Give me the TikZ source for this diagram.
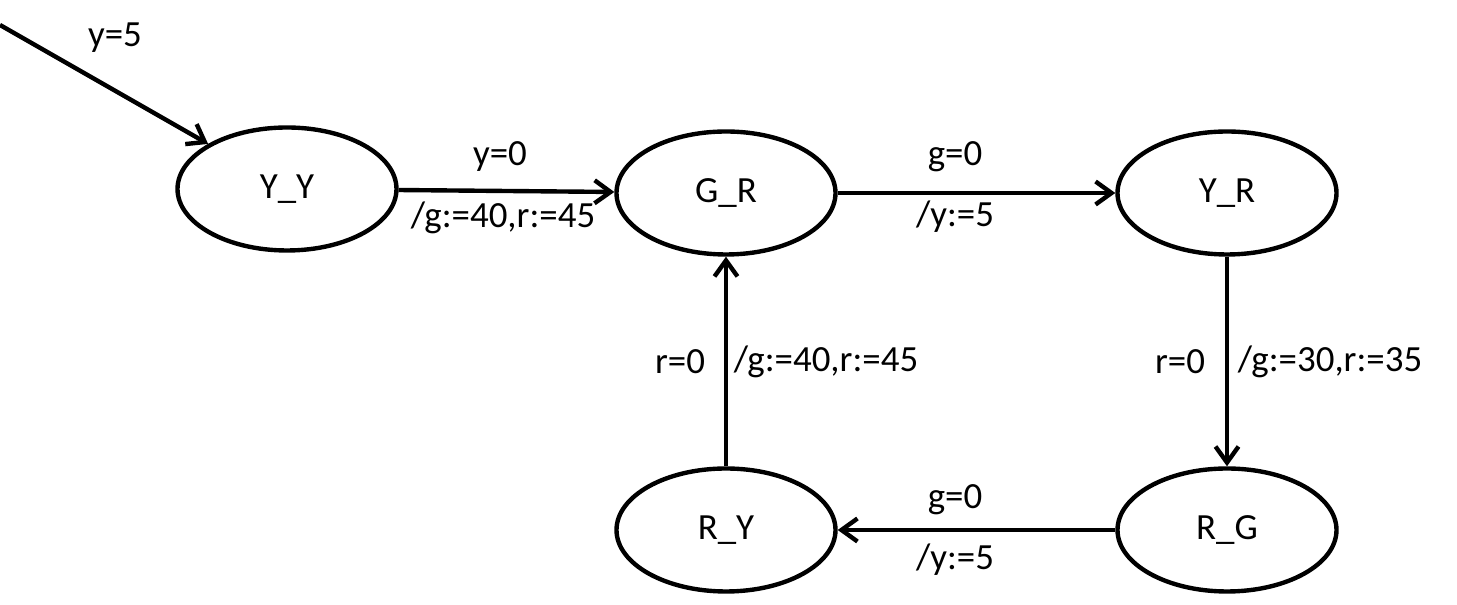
\documentclass[tikz,border=0pt]{standalone}
\usepackage{fontspec}
\setmainfont{Carlito}
\usetikzlibrary{shapes.geometric,arrows.meta}

\tikzset{
  state/.style={draw,ellipse,line width=2.5pt,minimum width=4.38cm,minimum height=2.46cm,inner sep=0pt},
  trans/.style={line width=2.5pt,-{Straight Barb[length=3.2mm,width=4.6mm,line width=2.5pt]}},
  lbl/.style={inner sep=0pt}
}

\begin{document}
\begin{tikzpicture}[font=\fontsize{21}{25}\selectfont]
			\useasboundingbox (0,0) rectangle (29.14,12.1);
			
			% states
			\node[state] (YY) at (5.74,8.32) {Y\_Y};
			\node[state] (GR) at (14.52,8.24) {G\_R};
			\node[state] (YR) at (24.54,8.24) {Y\_R};
			\node[state] (RY) at (14.52,1.50) {R\_Y};
			\node[state] (RG) at (24.54,1.50) {R\_G};
			
			% initial
			\coordinate (init) at (0,11.6);
			\draw[trans] (init) -- (YY);
			\node[lbl] (linit) at (2.3,11.34) {y=5};
			
			% transitions
			\draw[trans] (YY) -- (GR);
			\node[lbl] (l1a) at (10.0,8.96) {y=0};
			\node[lbl] (l1b) at (10.06,7.74) {/g:=40,r:=45};
			
			\draw[trans] (GR) -- (YR);
			\node[lbl] (l2a) at (19.1,8.96) {g=0};
			\node[lbl] (l2b) at (19.1,7.76) {/y:=5};
			
			\draw[trans] (YR) -- (RG);
			\node[lbl] (l3a) at (23.6,4.86) {r=0};
			\node[lbl] (l3b) at (26.6,4.86) {/g:=30,r:=35};
			
			\draw[trans] (RG) -- (RY);
			\node[lbl] (l4a) at (19.1,2.1) {g=0};
			\node[lbl] (l4b) at (19.1,0.9) {/y:=5};
			
			\draw[trans] (RY) -- (GR);
			\node[lbl] (l5a) at (13.6,4.86) {r=0};
			\node[lbl] (l5b) at (16.52,4.86) {/g:=40,r:=45};
			
		\end{tikzpicture}
\end{document}
